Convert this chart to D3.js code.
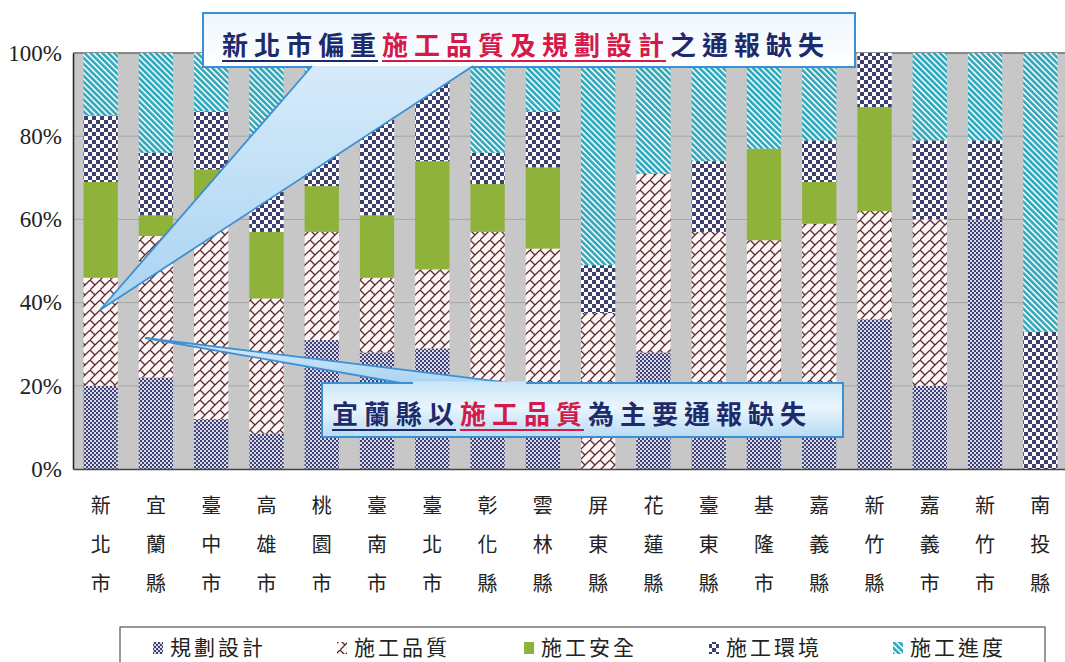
<!DOCTYPE html>
<html><head><meta charset="utf-8">
<script src="https://cdn.jsdelivr.net/npm/d3@7"></script>
<style>html,body{margin:0;padding:0;background:#fff;}svg{display:block;}</style>
</head><body>
<svg id="chart" width="1065" height="662"></svg>
<script>
const categories = ["新北市","宜蘭縣","臺中市","高雄市","桃園市","臺南市","臺北市","彰化縣","雲林縣","屏東縣","花蓮縣","臺東縣","基隆市","嘉義縣","新竹縣","嘉義市","新竹市","南投縣"];
const seriesNames = ["規劃設計","施工品質","施工安全","施工環境","施工進度"];
const planning    = [20, 22, 12, 8.5, 31, 28, 29, 20, 20, 0, 28, 20, 21, 20, 36, 20, 60, 0];
const quality     = [26, 34, 50, 32.5, 26, 18, 19, 37, 33, 37.5, 43, 37, 34, 39, 26, 40, 0, 0];
const safety      = [23, 5, 10, 16, 11, 15, 26, 11.5, 19.5, 0, 0, 0, 22, 10, 25, 0, 0, 0];
const environment = [16, 15, 14, 23, 16, 23, 19, 7.5, 13.5, 11.5, 0, 17, 0, 10, 13, 19, 19, 33];
const progress    = [15, 24, 14, 20, 16, 16, 7, 24, 14, 51, 29, 26, 23, 21, 0, 21, 21, 67];
const yTicks = [0, 20, 40, 60, 80, 100];

const svg = d3.select("#chart");
const defs = svg.append("defs");

// patterns
const pPlan = defs.append("pattern").attr("id","pPlan").attr("patternUnits","userSpaceOnUse").attr("width",4).attr("height",4);
pPlan.append("rect").attr("width",4).attr("height",4).attr("fill","#d9dae6");
pPlan.append("rect").attr("width",2).attr("height",2).attr("fill","#3e4278");
pPlan.append("rect").attr("x",2).attr("y",2).attr("width",2).attr("height",2).attr("fill","#3e4278");

const pQual = defs.append("pattern").attr("id","pQual").attr("patternUnits","userSpaceOnUse").attr("width",10).attr("height",10);
pQual.append("rect").attr("width",10).attr("height",10).attr("fill","#fff6f6");
pQual.append("path").attr("d","M-1,11 L11,-1 M0,0 L5,5").attr("stroke","#5b2b30").attr("stroke-width",1.3).attr("fill","none");

const pEnv = defs.append("pattern").attr("id","pEnv").attr("patternUnits","userSpaceOnUse").attr("width",8).attr("height",8);
pEnv.append("rect").attr("width",8).attr("height",8).attr("fill","#ffffff");
pEnv.append("rect").attr("width",4).attr("height",4).attr("fill","#3d3f70");
pEnv.append("rect").attr("x",4).attr("y",4).attr("width",4).attr("height",4).attr("fill","#3d3f70");

const pProg = defs.append("pattern").attr("id","pProg").attr("patternUnits","userSpaceOnUse").attr("width",4.2).attr("height",10).attr("patternTransform","rotate(-45)");
pProg.append("rect").attr("width",4.2).attr("height",10).attr("fill","#ffffff");
pProg.append("rect").attr("width",2.7).attr("height",10).attr("fill","#33a9bd");

const fills = ["url(#pPlan)","url(#pQual)","#8fb23a","url(#pEnv)","url(#pProg)"];

const gTop = defs.append("linearGradient").attr("id","gTop").attr("x1",0).attr("y1",0).attr("x2",0).attr("y2",1);
gTop.append("stop").attr("offset","0%").attr("stop-color","#eef6fd");
gTop.append("stop").attr("offset","100%").attr("stop-color","#ffffff");
const gWedge = defs.append("linearGradient").attr("id","gWedge").attr("x1",0).attr("y1",0).attr("x2",0).attr("y2",1);
gWedge.append("stop").attr("offset","0%").attr("stop-color","#d6ebfa");
gWedge.append("stop").attr("offset","100%").attr("stop-color","#a9d3f2");
const gBot = defs.append("linearGradient").attr("id","gBot").attr("x1",0).attr("y1",0).attr("x2",0).attr("y2",1);
gBot.append("stop").attr("offset","0%").attr("stop-color","#cbe6f8");
gBot.append("stop").attr("offset","45%").attr("stop-color","#eaf5fd");
gBot.append("stop").attr("offset","100%").attr("stop-color","#b7dbf3");

// scales
const x = d3.scaleBand().domain(categories).range([73, 1068]).paddingInner(0.38).paddingOuter(0.19);
const y = d3.scaleLinear().domain([0, 100]).range([469, 53]);

// plot background
svg.append("rect").attr("x",73).attr("y",y(100)).attr("width",1068-73).attr("height",y(0)-y(100)).attr("fill","#c7c7c7");
svg.append("g").selectAll("line").data(yTicks.filter(d=>d>0&&d<100)).join("line")
  .attr("x1",73).attr("x2",1068).attr("y1",d=>y(d)).attr("y2",d=>y(d))
  .attr("stroke","#a6a6a6").attr("stroke-width",1);
svg.append("line").attr("x1",73).attr("x2",1068).attr("y1",y(100)).attr("y2",y(100)).attr("stroke","#6a6a6a").attr("stroke-width",1.5);

// stacked data
const table = categories.map((c,i)=>({cat:c, "規劃設計":planning[i], "施工品質":quality[i], "施工安全":safety[i], "施工環境":environment[i], "施工進度":progress[i]}));
const stacked = d3.stack().keys(seriesNames)(table);

svg.append("g").selectAll("g").data(stacked).join("g")
  .attr("fill",(d,i)=>fills[i])
  .selectAll("rect").data(d=>d).join("rect")
  .attr("x",d=>x(d.data.cat)).attr("width",x.bandwidth())
  .attr("y",d=>y(d[1])).attr("height",d=>Math.max(0,y(d[0])-y(d[1])));

// axes
const yAxis = svg.append("g").attr("transform","translate(73,0)")
  .call(d3.axisLeft(y).tickValues(yTicks).tickFormat(d=>d+"%").tickSize(0).tickPadding(11));
yAxis.attr("font-family",null).attr("font-size",null);
yAxis.select(".domain").attr("stroke","#222").attr("stroke-width",1.5);
yAxis.selectAll("text")
  .style("font-family","'Liberation Serif', 'DejaVu Serif', serif")
  .style("font-size","23px").attr("fill","#222");

const xAxis = svg.append("g").attr("transform",`translate(0,${y(0)})`)
  .call(d3.axisBottom(x).tickSize(0).tickFormat(""));
xAxis.select(".domain").attr("stroke","#444").attr("stroke-width",1.5);
xAxis.selectAll(".tick").each(function(d){
  const t = d3.select(this);
  Array.from(d).forEach((ch,k)=>{
    t.append("text").attr("x",0).attr("y",37+k*39).attr("dy","0.35em")
      .attr("text-anchor","middle").attr("font-family","'Noto Sans CJK TC', sans-serif")
      .attr("font-size",20).attr("fill","#222").text(ch);
  });
});

// callouts
function richText(g, x0, yb, segs, size){
  let cx = x0;
  segs.forEach(s=>{
    const t = g.append("text").attr("x",cx).attr("y",yb)
      .attr("font-family","'Noto Sans CJK TC', sans-serif").attr("font-weight",600)
      .attr("font-size",size).attr("letter-spacing",6).attr("fill",s.color).text(s.text);
    const w = t.node().getComputedTextLength();
    if (s.u) g.append("line").attr("x1",cx).attr("x2",cx+w-4).attr("y1",yb+6).attr("y2",yb+6)
      .attr("stroke",s.color).attr("stroke-width",1.8);
    cx += w;
  });
}
const navy = "#1d2a6c", red = "#d31a4b";

const c1 = svg.append("g");
c1.append("rect").attr("x",203).attr("y",13).attr("width",652).attr("height",54).attr("fill","url(#gTop)").attr("stroke","#3d8fd3").attr("stroke-width",2);
c1.append("path").attr("d","M312,66 L100,310 L473,66 Z").attr("fill","url(#gWedge)");
c1.append("path").attr("d","M312,66 L100,310 L473,66").attr("fill","none").attr("stroke","#3d8fd3").attr("stroke-width",1.8);
richText(c1, 222, 55, [{text:"新北市偏重",color:navy,u:true},{text:"施工品質及規劃設計",color:red,u:true},{text:"之通報缺失",color:navy,u:false}], 26);

const c2 = svg.append("g");
c2.append("path").attr("d","M412,385 L145,338 L527,385 Z").attr("fill","url(#gWedge)");
c2.append("path").attr("d","M412,385 L145,338 L527,385").attr("fill","none").attr("stroke","#3d8fd3").attr("stroke-width",1.8);
c2.append("rect").attr("x",322).attr("y",383).attr("width",521).attr("height",54).attr("fill","url(#gBot)").attr("stroke","#3d8fd3").attr("stroke-width",2);
c2.append("path").attr("d","M413,383 L526,383").attr("stroke","#cbe6f8").attr("stroke-width",3);
richText(c2, 332, 424, [{text:"宜蘭縣以",color:navy,u:true},{text:"施工品質",color:red,u:true},{text:"為主要通報缺失",color:navy,u:false}], 26);

// legend
const lg = svg.append("g");
lg.append("rect").attr("x",120).attr("y",627).attr("width",925).attr("height",50).attr("fill","#fff").attr("stroke","#555").attr("stroke-width",1.2);
const legX = [153, 337, 524, 709, 893];
seriesNames.forEach((n,i)=>{
  lg.append("rect").attr("x",legX[i]).attr("y",642).attr("width",10).attr("height",12).attr("fill",fills[i]);
  lg.append("text").attr("x",legX[i]+17).attr("y",648).attr("dy","0.35em")
    .attr("font-family","'Noto Sans CJK TC', sans-serif").attr("font-size",21).attr("letter-spacing",3).attr("fill","#222").text(n);
});
</script>
</body></html>
